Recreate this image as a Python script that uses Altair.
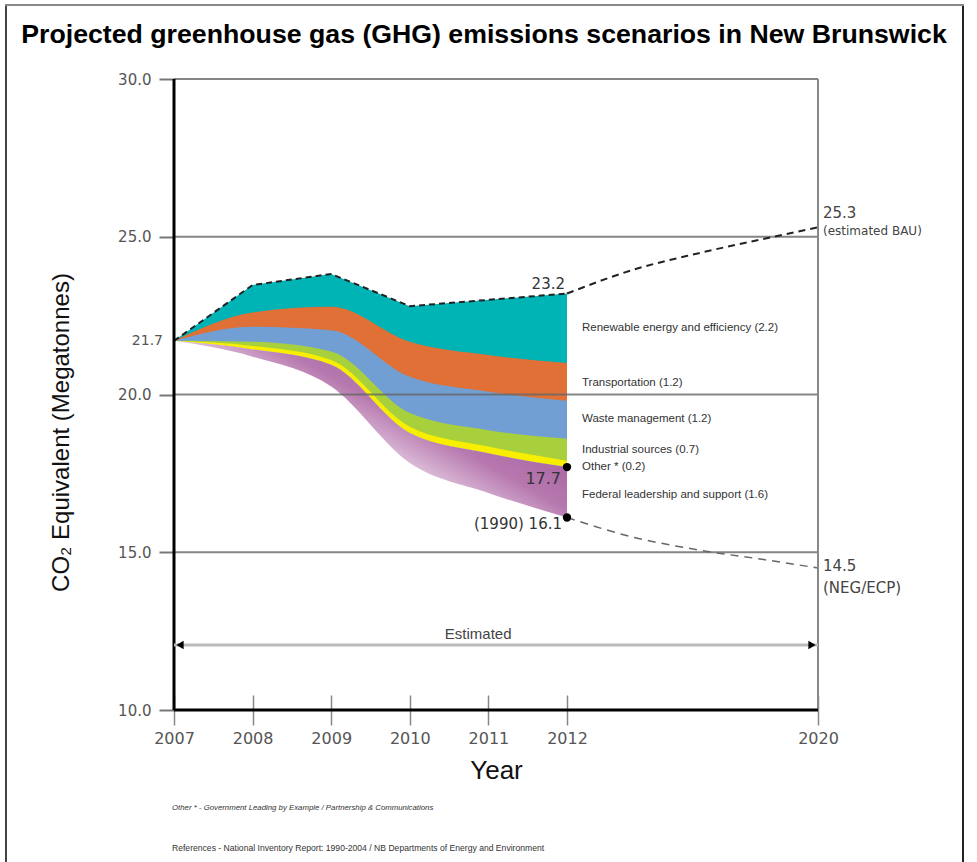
import altair as alt
import pandas as pd

# ---------------- data ----------------
years = [2007, 2008, 2009, 2010, 2011, 2012]
bau_top = [21.7, 23.47, 23.82, 22.80, 23.00, 23.2]
transport_top = [21.7, 22.60, 22.78, 21.67, 21.25, 21.0]
waste_top = [21.7, 22.15, 22.04, 20.56, 20.09, 19.8]
industrial_top = [21.7, 21.67, 21.36, 19.41, 18.87, 18.6]
other_top = [21.7, 21.54, 21.09, 18.98, 18.35, 17.9]
federal_top = [21.7, 21.43, 20.94, 18.78, 18.14, 17.7]
federal_bottom = [21.7, 21.20, 20.25, 17.83, 16.88, 16.1]

proj_years = [2012, 2014.1, 2016.2, 2018.4, 2020]
bau_proj = [23.2, 23.95, 24.48, 24.96, 25.3]
neg_proj = [16.1, 15.48, 15.07, 14.75, 14.5]

band_labels = [
    "Renewable energy and efficiency (2.2)",
    "Transportation (1.2)",
    "Waste management (1.2)",
    "Industrial sources (0.7)",
    "Other * (0.2)",
    "Federal leadership and support (1.6)",
]
band_label_y = [22.11, 20.36, 19.22, 18.24, 17.70, 16.81]

grid_values = [15, 20, 25, 30]
x_ticks = [2007, 2008, 2009, 2010, 2011, 2012, 2020]
y_ticks = [10, 15, 20, 25, 30]

title_text = "Projected greenhouse gas (GHG) emissions scenarios in New Brunswick"
note_other = "Other * - Government Leading by Example / Partnership & Communications"
note_refs = "References - National Inventory Report: 1990-2004 / NB Departments of Energy and Environment"

# ---------------- style ----------------
SANS = "Liberation Sans"
PLAIN = "DejaVu Sans"

df = pd.DataFrame({
    "year": years, "bau": bau_top, "trans": transport_top, "waste": waste_top,
    "ind": industrial_top, "other": other_top, "fed": federal_top, "fedb": federal_bottom,
})
proj = pd.DataFrame({"year": proj_years, "bau": bau_proj, "neg": neg_proj})
grid_df = pd.DataFrame({"value": grid_values, "year": [2007] * 4, "year2": [2020] * 4})
lab_df = pd.DataFrame({"label": band_labels, "value": band_label_y, "year": [2012] * 6})

x_scale = alt.Scale(domain=[2007, 2012, 2020], range=[0, 393, 644])
y_scale = alt.Scale(domain=[10, 30], nice=False, zero=False)

x_axis = alt.Axis(values=x_ticks, format="d", title="Year", domain=False, grid=False,
                  offset=-15, tickSize=30, tickColor="#888", tickWidth=1.5,
                  labelFont=PLAIN, labelFontSize=16, labelColor="#555", labelPadding=5,
                  labelFlush=False, titleFont=SANS, titleFontSize=26,
                  titleFontWeight="normal", titleColor="#111", titlePadding=11)
y_axis = alt.Axis(values=y_ticks, format=".1f", title="CO₂ Equivalent  (Megatonnes)",
                  domain=False, grid=False, tickSize=15, tickColor="#777", tickWidth=2,
                  labelFont=PLAIN, labelFontSize=15, labelColor="#555", labelPadding=8,
                  titleFont=SANS, titleFontSize=24, titleFontWeight="normal",
                  titleColor="#111", titlePadding=44, titleY=353)


def X(field="year"):
    return alt.X(f"{field}:Q", scale=x_scale, axis=x_axis)


def Y(field):
    return alt.Y(f"{field}:Q", scale=y_scale, axis=y_axis)


base = alt.Chart(df)

teal = base.mark_area(color="#00b3b5", interpolate="linear").encode(
    x=X(), y=Y("bau"), y2="ind:Q")
orange = base.mark_area(color="#e07035", interpolate="monotone").encode(
    x=X(), y=Y("trans"), y2="ind:Q")
blue = base.mark_area(color="#729fd3", interpolate="monotone").encode(
    x=X(), y=Y("waste"), y2="other:Q")
green = base.mark_area(color="#a8cf3c", interpolate="monotone").encode(
    x=X(), y=Y("ind"), y2="fed:Q")
yellow = base.mark_area(color="#f8ee00", interpolate="monotone").encode(
    x=X(), y=Y("other"), y2="fed:Q")
purple = base.mark_area(
    interpolate="monotone",
    fill=alt.Gradient(
        gradient="linear",
        stops=[alt.GradientStop(color="#a0549a", offset=0),
               alt.GradientStop(color="#b678ae", offset=0.36),
               alt.GradientStop(color="#eedcec", offset=0.6),
               alt.GradientStop(color="#ffffff", offset=1)],
        x1=1, y1=0.4, x2=0.25, y2=1.0),
).encode(x=X(), y=Y("fed"), y2="fedb:Q")

grid = alt.Chart(grid_df).mark_rule(color="#666", strokeWidth=2, opacity=0.8).encode(
    x=X(), x2="year2:Q", y=Y("value"))

bau_line = base.mark_line(color="#222", strokeWidth=2, strokeDash=[6, 4]).encode(
    x=X(), y=Y("bau"))
bau_proj_line = alt.Chart(proj).mark_line(color="#222", strokeWidth=2, strokeDash=[7, 5],
                                          interpolate="monotone").encode(x=X(), y=Y("bau"))
neg_proj_line = alt.Chart(proj).mark_line(color="#666", strokeWidth=1.5, strokeDash=[8, 6],
                                          interpolate="monotone").encode(x=X(), y=Y("neg"))

dots_df = pd.DataFrame({"year": [2012, 2012], "value": [federal_top[-1], federal_bottom[-1]]})
dots = alt.Chart(dots_df).mark_circle(color="black", size=70, opacity=1).encode(
    x=X(), y=Y("value"))

frame_df = pd.DataFrame({"year": [2007, 2020], "value": [10, 10], "top": [30, 30]})
left_line = alt.Chart(frame_df.iloc[[0]]).mark_rule(color="black", strokeWidth=3).encode(
    x=X(), y=Y("value"), y2="top:Q")
right_line = alt.Chart(frame_df.iloc[[1]]).mark_rule(color="#888", strokeWidth=2).encode(
    x=X(), y=Y("value"), y2="top:Q")
bottom_df = pd.DataFrame({"year": [2007], "year2": [2020], "value": [10]})
bottom_line = alt.Chart(bottom_df).mark_rule(color="black", strokeWidth=3).encode(
    x=X(), x2="year2:Q", y=Y("value"))

# Estimated arrow
est_df = pd.DataFrame({"year": [2007], "year2": [2020], "value": [12.06], "mid": [2010.87]})
est_line = alt.Chart(est_df).mark_rule(color="#bbb", strokeWidth=3).encode(
    x=X(), x2="year2:Q", y=Y("value"))
est_text = alt.Chart(est_df).mark_text(font=SANS, fontSize=15, color="#444", dy=-11).encode(
    x=X("mid"), y=Y("value"), text=alt.value("Estimated"))
arrow_l = alt.Chart(est_df).mark_point(shape="triangle-left", filled=True, color="black",
                                        size=70, opacity=1, xOffset=6).encode(
    x=X(), y=Y("value"))
arrow_r = alt.Chart(est_df).mark_point(shape="triangle-right", filled=True, color="black",
                                        size=70, opacity=1, xOffset=-6).encode(
    x=X("year2"), y=Y("value"))

# band labels
band_text = alt.Chart(lab_df).mark_text(font=SANS, fontSize=11.5, color="#333",
                                        align="left", dx=15).encode(
    x=X(), y=Y("value"), text="label:N")


def note(year, value, text, **kw):
    d = pd.DataFrame({"year": [year], "value": [value]})
    return alt.Chart(d).mark_text(**kw).encode(x=X(), y=Y("value"), text=alt.value(text))


ann = [
    note(2007, 21.7, "21.7", font=PLAIN, fontSize=14, color="#555", align="right", dx=-11),
    note(2012, 23.2, "23.2", font=PLAIN, fontSize=15, color="#333", align="right", dx=-2, dy=-10),
    note(2012, 17.7, "17.7", font=PLAIN, fontSize=16, color="#333", align="right", dx=-6, dy=12),
    note(2012, 16.1, "(1990) 16.1", font=PLAIN, fontSize=15, color="#333", align="right", dx=-5, dy=6),
    note(2020, 25.3, "25.3", font=PLAIN, fontSize=15, color="#444", align="left", dx=5, dy=-14),
    note(2020, 25.3, "(estimated BAU)", font=PLAIN, fontSize=12, color="#444", align="left", dx=5, dy=4),
    note(2020, 14.5, "14.5", font=PLAIN, fontSize=15, color="#444", align="left", dx=5, dy=-2),
    note(2020, 14.5, "(NEG/ECP)", font=PLAIN, fontSize=15, color="#444", align="left", dx=5, dy=20),
]

# title, footnotes and border (pixel placed, relative to plot origin)
blank = alt.Data(values=[{}])
title = alt.Chart(blank).mark_text(font=SANS, fontSize=26.7, fontWeight="bold", color="black",
                                   align="center", baseline="middle").encode(
    x=alt.value(310), y=alt.value(-44), text=alt.value(title_text))
foot1 = alt.Chart(blank).mark_text(font=SANS, fontSize=7.8, fontStyle="italic", color="#333",
                                   align="left", baseline="middle").encode(
    x=alt.value(-2), y=alt.value(729), text=alt.value(note_other))
foot2 = alt.Chart(blank).mark_text(font=SANS, fontSize=8.6, color="#333",
                                   align="left", baseline="middle").encode(
    x=alt.value(-2), y=alt.value(769), text=alt.value(note_refs))
border_l = alt.Chart(blank).mark_rule(color="#444", strokeWidth=2).encode(
    x=alt.value(-168), y=alt.value(-74), y2=alt.value(790))
border_r = alt.Chart(blank).mark_rule(color="#222", strokeWidth=2).encode(
    x=alt.value(789), y=alt.value(-74), y2=alt.value(790))
border_t = alt.Chart(blank).mark_rule(color="#888", strokeWidth=2).encode(
    x=alt.value(-169), x2=alt.value(790), y=alt.value(-74))

chart = alt.layer(
    teal, orange, blue, green, yellow, purple,
    grid, bau_line, bau_proj_line, neg_proj_line,
    left_line, right_line, bottom_line,
    est_line, est_text, arrow_l, arrow_r,
    dots, band_text, *ann,
    title, foot1, foot2, border_l, border_r, border_t,
).properties(
    width=644, height=631,
    autosize=alt.AutoSizeParams(type="none"),
    padding={"left": 174, "top": 79, "right": 159, "bottom": 152},
    background="white",
).configure_view(stroke=None)

chart.save("out.html", embed_options={"renderer": "svg", "actions": False})
